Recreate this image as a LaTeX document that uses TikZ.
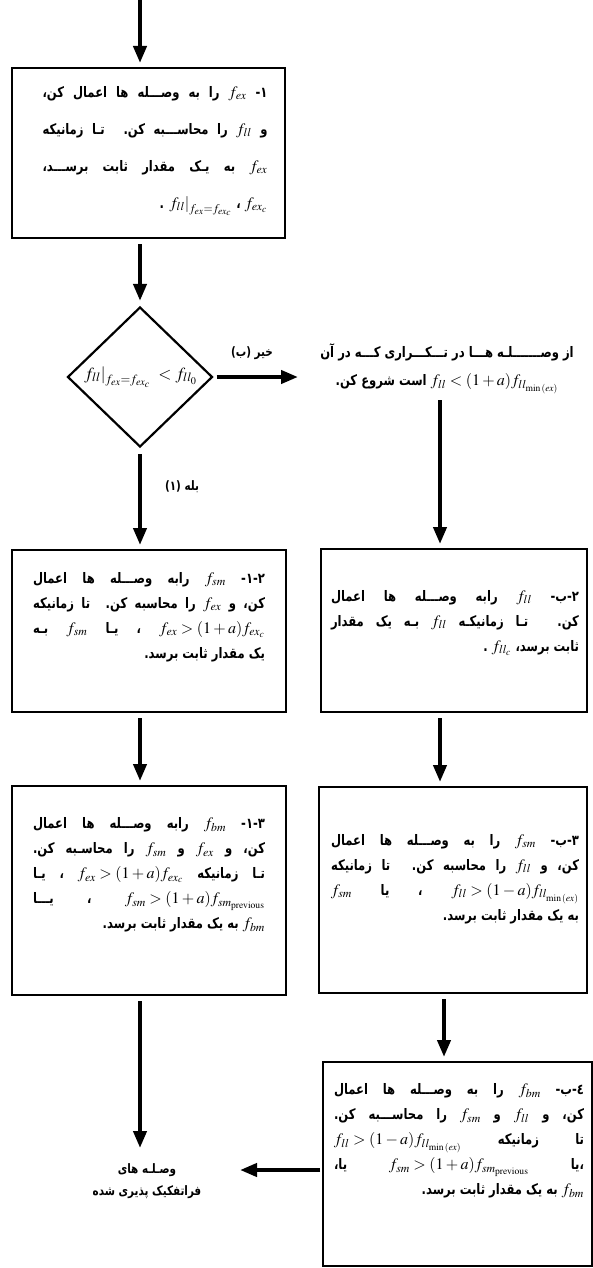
\documentclass[tikz,border=0pt]{standalone}
\usepackage{mathptmx}
\usepackage[no-math]{fontspec}
\setmainfont{Liberation Serif}
\newfontfamily\fa[Script=Arabic,FakeStretch=0.8]{DejaVu Sans}
\TeXXeTstate=1
\hbadness=10000
\hfuzz=50pt
\usetikzlibrary{arrows.meta,shapes.geometric,calc}
\newcommand\mth[1]{\beginL\hbox{\fontsize{16}{25}\selectfont$#1$}\endL}
\newcommand\jln[1]{\hbox to\hsize{\beginR#1\endR}}
\newcommand\rln[1]{\hbox to\hsize{\hfill\beginR#1\endR}}
\newcommand\cln[1]{\hbox to\hsize{\hfill\beginR#1\endR\hfill}}
\newcommand\tblk[2]{\vbox{\hsize=#1 #2}}
\begin{document}
\begin{tikzpicture}[x=1pt,y=-1pt,
  box/.style={draw,line width=2.6pt,inner sep=0pt,outer sep=0pt},
  arr/.style={line width=4pt,-{Triangle[length=17pt,width=13pt]},shorten <=6pt,shorten >=5pt},
  txt/.style={inner sep=0pt,font=\fa\bfseries\fontsize{14.5}{25}\selectfont},
  lbl/.style={inner sep=0pt,font=\fa\bfseries\fontsize{13}{22}\selectfont}]
\useasboundingbox (0,0) rectangle (593,1268);
% boxes
\node[box,minimum width=273pt,minimum height=170pt] (b1) at (148.5,153) {};
\node[draw,line width=2.2pt,diamond,minimum width=145pt,minimum height=140pt,inner sep=0pt] (d) at (140,377) {};
\node[box,minimum width=274pt,minimum height=162pt] (b21) at (149,631) {};
\node[box,minimum width=266pt,minimum height=163pt] (b2b) at (454,630.5) {};
\node[box,minimum width=274pt,minimum height=209pt] (b31) at (149,890.5) {};
\node[box,minimum width=268pt,minimum height=206pt] (b3b) at (453,890) {};
\node[box,minimum width=269pt,minimum height=204pt] (b4b) at (457.5,1164) {};
% texts
\node[txt,font=\fa\bfseries\fontsize{14.5}{37}\selectfont] (t1) at (155,151) {\tblk{225pt}{%
\jln{١- \mth{f_{ex}} را به وصـــله ها اعمال کن،}
\jln{و \mth{f_{ll}} را محاســـبه کن. تـا زمانیکه}
\jln{\mth{f_{ex}} به یـک مقدار ثابت برســـد،}
\rln{\mth{f_{ex_c}} ، \mth{\left.f_{ll}\right|_{f_{ex}=f_{ex_c}}} .\hspace{12pt}}}};
\node[inner sep=0pt,font=\fontsize{17}{19}\selectfont] (dt) at (d.center) {$\left.f_{ll}\right|_{f_{ex}=f_{ex_c}}\;<f_{ll_0}$};
\node[txt,font=\fa\bfseries\fontsize{14.5}{28}\selectfont] (rt) at (447,369) {\tblk{277pt}{%
\cln{از وصـــــــلـه هـــا در تـــکـــراری کـــه در آن}
\cln{\mth{f_{ll}<(1+a)f_{ll_{\min\,(ex)}}} است شروع کن.}}};
\node[txt] (t21) at (149,617) {\tblk{232pt}{%
\jln{٢-١- \mth{f_{sm}} رابه وصـــله ها اعمال}
\jln{کن، و \mth{f_{ex}} را محاسبه کن. تا زمانیکه}
\jln{\mth{f_{ex}>(1+a)f_{ex_c}} ، یـا \mth{f_{sm}} بـه}
\rln{یک مقدار ثابت برسد.}}};
\node[txt] (t2b) at (455,623) {\tblk{248pt}{%
\jln{٢-ب- \mth{f_{ll}} رابه وصـــله ها اعمال}
\jln{کن. تـا زمانیکـه \mth{f_{ll}} بـه یک مقدار}
\rln{ثابت برسد، \mth{f_{ll_c}} .}}};
\node[txt] (t31) at (149,875) {\tblk{232pt}{%
\jln{٣-١- \mth{f_{bm}} رابه وصـــله ها اعمال}
\jln{کن، و \mth{f_{ex}} و \mth{f_{sm}} را محاسـبه کن.}
\jln{تـا زمانیکه \mth{f_{ex}>(1+a)f_{ex_c}} ، یـا}
\jln{\mth{f_{sm}>(1+a)f_{sm_{\mathrm{previous}}}} ، یـــا}
\rln{\mth{f_{bm}} به یک مقدار ثابت برسد.}}};
\node[txt] (t3b) at (455,879) {\tblk{248pt}{%
\jln{٣-ب- \mth{f_{sm}} را به وصـــله ها اعمال}
\jln{کن، و \mth{f_{ll}} را محاسبه کن. تا زمانیکه}
\jln{\mth{f_{ll}>(1-a)f_{ll_{\min\,(ex)}}} ، یا \mth{f_{sm}}}
\rln{به یک مقدار ثابت برسد.}}};
\node[txt] (t4b) at (459,1141) {\tblk{250pt}{%
\jln{٤-ب- \mth{f_{bm}} را به وصـــله ها اعمال}
\jln{کن، و \mth{f_{ll}} و \mth{f_{sm}} را محاســـبه کن.}
\jln{تا زمانیکه \mth{f_{ll}>(1-a)f_{ll_{\min\,(ex)}}}}
\jln{،یا \mth{f_{sm}>(1+a)f_{sm_{\mathrm{previous}}}} یا،}
\rln{\mth{f_{bm}} به یک مقدار ثابت برسد.\hspace{22pt}}}};
\node[lbl] (fl) at (147,1181) {\tblk{150pt}{%
\cln{وصـلـه های}
\cln{فراتفکیک پذیری شده}}};
\node[lbl] (no) at (252,353) {\beginR خیر (ب)\endR};
\node[lbl] (yes) at (182,487) {\beginR بله (١)\endR};
% coordinates
\coordinate (top) at (140,0);
\coordinate (c1) at (303,0);
\coordinate (c2) at (440,0);
\coordinate (c3) at (444,0);
\coordinate (e1) at (140,1148);
\coordinate (e2) at (240,1170);
% connectors
\draw[arr,shorten <=0pt] (top) -- (top |- b1.north);
\draw[arr] (b1.south -| d.north) -- (d.north);
\draw[arr,shorten <=3pt] (d.east) -- (d.east -| c1);
\draw[arr] (d.south) -- (d.south |- b21.north);
\draw[arr] (rt.south -| c2) -- (b2b.north -| c2);
\draw[arr] (b21.south -| d.south) -- (b31.north -| d.south);
\draw[arr] (b2b.south -| c2) -- (b3b.north -| c2);
\draw[arr] (b3b.south -| c3) -- (b4b.north -| c3);
\draw[arr,shorten >=0pt] (b31.south -| e1) -- (e1);
\draw[arr,shorten >=0pt,shorten <=3pt] (b4b.west |- e2) -- (e2);
\end{tikzpicture}
\end{document}
